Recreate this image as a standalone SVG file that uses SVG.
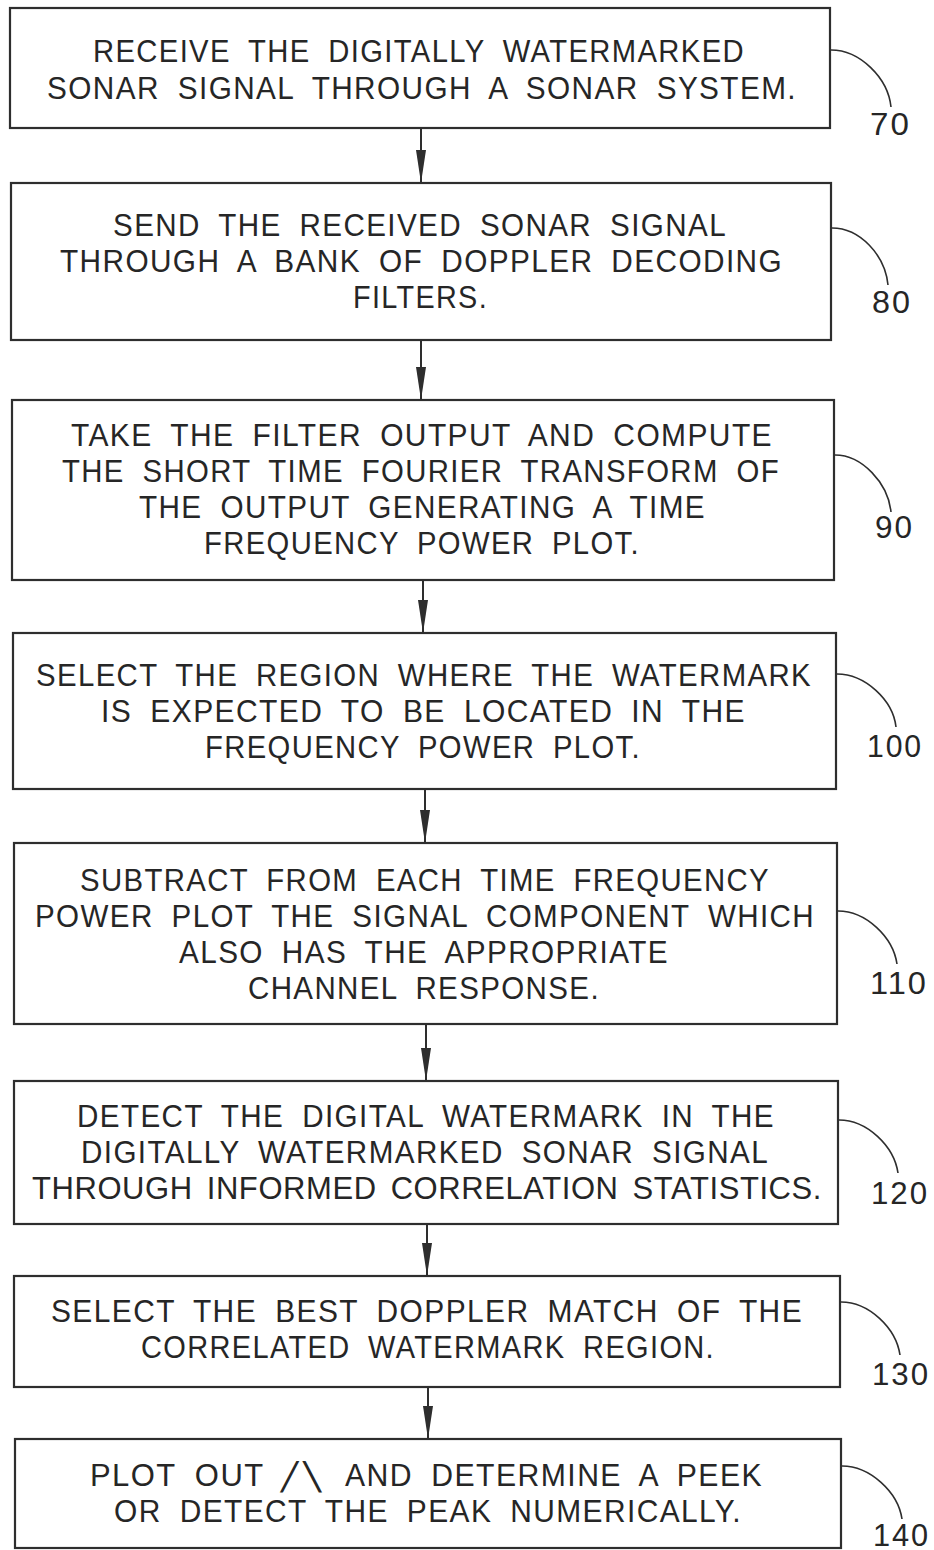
<svg xmlns="http://www.w3.org/2000/svg" width="934" height="1550" viewBox="0 0 934 1550">
<style>
.box{fill:#fff;stroke:#2e2e2e;stroke-width:2.2}
.t{font-family:"Liberation Sans",Arial,sans-serif;font-size:32px;fill:#262626;letter-spacing:1.5px;word-spacing:9px}
.tight{letter-spacing:0.6px;word-spacing:5px}
.lbl{font-family:"Liberation Sans",Arial,sans-serif;font-size:32px;fill:#262626;letter-spacing:2px}
.sym{font-family:Roboto,"Liberation Sans",sans-serif;font-weight:300;letter-spacing:0;word-spacing:0}
.lead{fill:none;stroke:#2e2e2e;stroke-width:1.6}
.conn{stroke:#2e2e2e;stroke-width:2;fill:none}
</style>
<defs>
<marker id="ah" markerUnits="userSpaceOnUse" markerWidth="34" markerHeight="10" refX="33" refY="5" orient="auto">
<path d="M0,0 L33,5 L0,10 z" fill="#2e2e2e"/>
</marker>
</defs>
<rect width="934" height="1550" fill="#fff"/>

<g id="connectors">
<line class="conn" x1="421" y1="128" x2="421" y2="183" marker-end="url(#ah)"/>
<line class="conn" x1="421" y1="340" x2="421" y2="400" marker-end="url(#ah)"/>
<line class="conn" x1="423" y1="580" x2="423" y2="633" marker-end="url(#ah)"/>
<line class="conn" x1="425" y1="789" x2="425" y2="843" marker-end="url(#ah)"/>
<line class="conn" x1="426" y1="1024" x2="426" y2="1081" marker-end="url(#ah)"/>
<line class="conn" x1="427" y1="1224" x2="427" y2="1276" marker-end="url(#ah)"/>
<line class="conn" x1="428" y1="1387" x2="428" y2="1439" marker-end="url(#ah)"/>
</g>

<g id="step70">
<rect class="box" x="10" y="8" width="820" height="120"/>
<text class="t" x="93" y="62" textLength="652" lengthAdjust="spacingAndGlyphs">RECEIVE THE DIGITALLY WATERMARKED</text>
<text class="t" x="47" y="99" textLength="750" lengthAdjust="spacingAndGlyphs">SONAR SIGNAL THROUGH A SONAR SYSTEM.</text>
<path class="lead" d="M831 50 C860 50 888 78 891 107"/>
<text class="lbl" x="870" y="135" textLength="41" lengthAdjust="spacingAndGlyphs">70</text>
</g>

<g id="step80">
<rect class="box" x="11" y="183" width="820" height="157"/>
<text class="t" x="113" y="236" textLength="614" lengthAdjust="spacingAndGlyphs">SEND THE RECEIVED SONAR SIGNAL</text>
<text class="t" x="60" y="272" textLength="723" lengthAdjust="spacingAndGlyphs">THROUGH A BANK OF DOPPLER DECODING</text>
<text class="t" x="353" y="308" textLength="135" lengthAdjust="spacingAndGlyphs">FILTERS.</text>
<path class="lead" d="M832 228 C860 228 885 255 888 285"/>
<text class="lbl" x="872" y="313" textLength="40" lengthAdjust="spacingAndGlyphs">80</text>
</g>

<g id="step90">
<rect class="box" x="12" y="400" width="822" height="180"/>
<text class="t" x="71" y="446" textLength="702" lengthAdjust="spacingAndGlyphs">TAKE THE FILTER OUTPUT AND COMPUTE</text>
<text class="t" x="62" y="482" textLength="718" lengthAdjust="spacingAndGlyphs">THE SHORT TIME FOURIER TRANSFORM OF</text>
<text class="t" x="139" y="518" textLength="567" lengthAdjust="spacingAndGlyphs">THE OUTPUT GENERATING A TIME</text>
<text class="t" x="204" y="554" textLength="436" lengthAdjust="spacingAndGlyphs">FREQUENCY POWER PLOT.</text>
<path class="lead" d="M835 455 C862 455 888 483 891 512"/>
<text class="lbl" x="875" y="538" textLength="39" lengthAdjust="spacingAndGlyphs">90</text>
</g>

<g id="step100">
<rect class="box" x="13" y="633" width="823" height="156"/>
<text class="t" x="36" y="686" textLength="776" lengthAdjust="spacingAndGlyphs">SELECT THE REGION WHERE THE WATERMARK</text>
<text class="t" x="101" y="722" textLength="645" lengthAdjust="spacingAndGlyphs">IS EXPECTED TO BE LOCATED IN THE</text>
<text class="t" x="205" y="758" textLength="436" lengthAdjust="spacingAndGlyphs">FREQUENCY POWER PLOT.</text>
<path class="lead" d="M837 674 C865 674 893 700 896 727"/>
<text class="lbl" x="867" y="757" textLength="56" lengthAdjust="spacingAndGlyphs">100</text>
</g>

<g id="step110">
<rect class="box" x="14" y="843" width="823" height="181"/>
<text class="t" x="80" y="891" textLength="690" lengthAdjust="spacingAndGlyphs">SUBTRACT FROM EACH TIME FREQUENCY</text>
<text class="t" x="35" y="927" textLength="780" lengthAdjust="spacingAndGlyphs">POWER PLOT THE SIGNAL COMPONENT WHICH</text>
<text class="t" x="179" y="963" textLength="490" lengthAdjust="spacingAndGlyphs">ALSO HAS THE APPROPRIATE</text>
<text class="t" x="248" y="999" textLength="352" lengthAdjust="spacingAndGlyphs">CHANNEL RESPONSE.</text>
<path class="lead" d="M838 911 C866 911 893 937 897 964"/>
<text class="lbl" x="870" y="994" textLength="58" lengthAdjust="spacingAndGlyphs">110</text>
</g>

<g id="step120">
<rect class="box" x="14" y="1081" width="824" height="143"/>
<text class="t" x="77" y="1127" textLength="698" lengthAdjust="spacingAndGlyphs">DETECT THE DIGITAL WATERMARK IN THE</text>
<text class="t" x="81" y="1163" textLength="688" lengthAdjust="spacingAndGlyphs">DIGITALLY WATERMARKED SONAR SIGNAL</text>
<text class="t tight" x="32" y="1199" textLength="790" lengthAdjust="spacingAndGlyphs">THROUGH INFORMED CORRELATION STATISTICS.</text>
<path class="lead" d="M839 1120 C867 1120 894 1146 898 1173"/>
<text class="lbl" x="871" y="1204" textLength="58" lengthAdjust="spacingAndGlyphs">120</text>
</g>

<g id="step130">
<rect class="box" x="14" y="1276" width="826" height="111"/>
<text class="t" x="51" y="1322" textLength="752" lengthAdjust="spacingAndGlyphs">SELECT THE BEST DOPPLER MATCH OF THE</text>
<text class="t" x="141" y="1358" textLength="574" lengthAdjust="spacingAndGlyphs">CORRELATED WATERMARK REGION.</text>
<path class="lead" d="M841 1302 C869 1302 896 1328 900 1355"/>
<text class="lbl" x="872" y="1385" textLength="58" lengthAdjust="spacingAndGlyphs">130</text>
</g>

<g id="step140">
<rect class="box" x="15" y="1439" width="826" height="109"/>
<text class="t" y="1486"><tspan x="90" textLength="174" lengthAdjust="spacingAndGlyphs">PLOT OUT</tspan> <tspan class="sym" x="279" y="1490" font-size="40" textLength="44" lengthAdjust="spacingAndGlyphs">/\</tspan> <tspan x="345" y="1486" textLength="418" lengthAdjust="spacingAndGlyphs">AND DETERMINE A PEEK</tspan></text>
<text class="t" x="114" y="1522" textLength="628" lengthAdjust="spacingAndGlyphs">OR DETECT THE PEAK NUMERICALLY.</text>
<path class="lead" d="M842 1466 C870 1466 898 1492 902 1519"/>
<text class="lbl" x="873" y="1546" textLength="57" lengthAdjust="spacingAndGlyphs">140</text>
</g>
</svg>
